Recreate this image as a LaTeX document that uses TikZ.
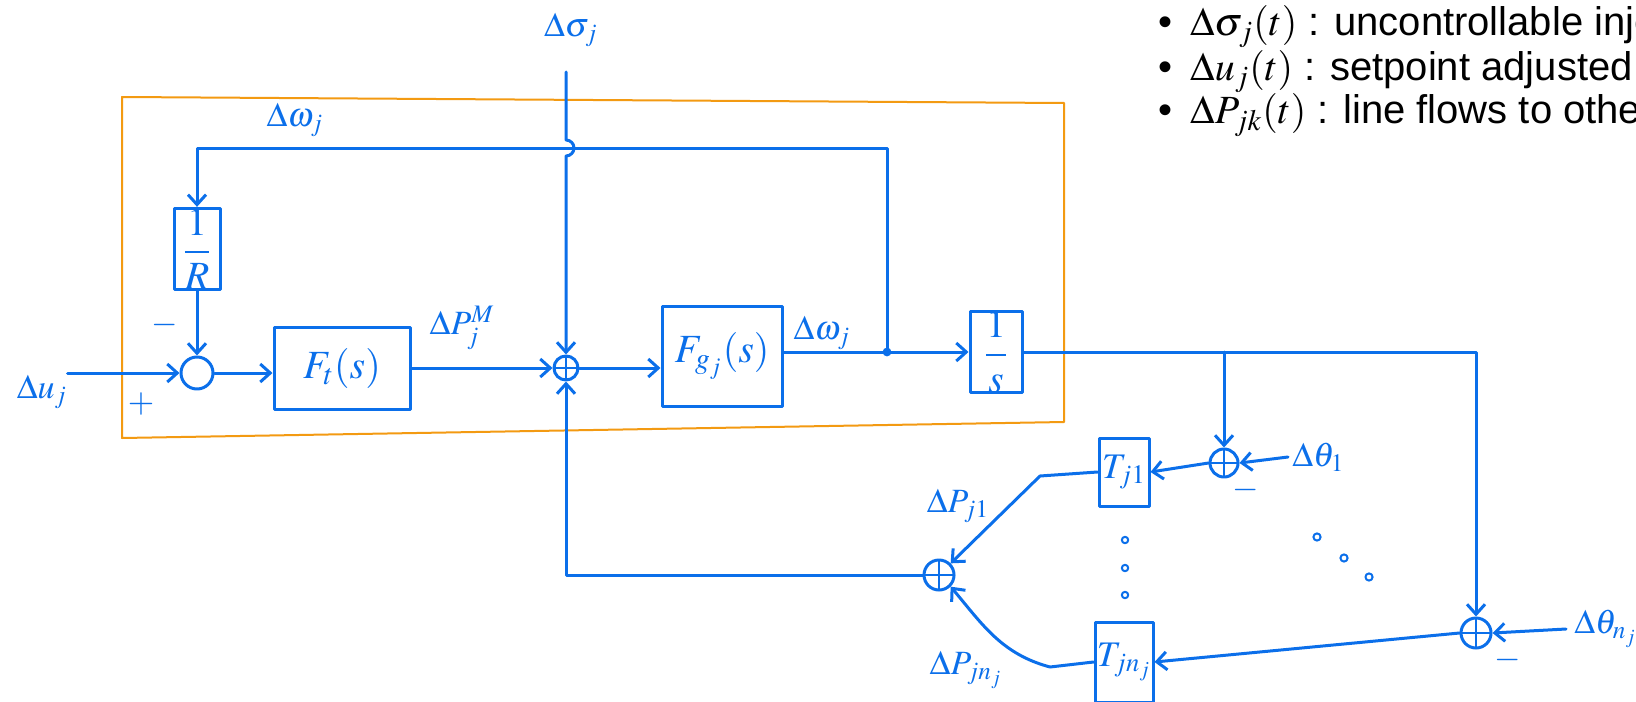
\documentclass[tikz,border=0pt]{standalone}
\usepackage{mathptmx}
\usepackage{fontspec}
\setmainfont{Liberation Sans}
\usetikzlibrary{arrows.meta}
\definecolor{InkBlue}{HTML}{0B6FEA}
\definecolor{FrameOrange}{HTML}{F39A12}

\begin{document}
\begin{tikzpicture}[x=.5pt,y=-.5pt,line cap=round,line join=round,
  >={Straight Barb[length=5pt,width=9pt]},
  ink/.style={InkBlue,line width=1.5pt},
  blk/.style={draw=InkBlue,line width=1.5pt,inner sep=0pt,text=InkBlue,font=\fontsize{20}{22}\selectfont},
  sumjn/.style={circle,draw=InkBlue,line width=1.5pt,inner sep=0pt,minimum size=#1,
    path picture={\draw[InkBlue,line width=1.2pt] (path picture bounding box.north) -- (path picture bounding box.south)
      (path picture bounding box.west) -- (path picture bounding box.east);}},
  lbl/.style={text=InkBlue,inner sep=0pt,font=\fontsize{17}{19}\selectfont}]
  \useasboundingbox (0,0) rectangle (1636,701);
  \begin{scope}
  \clip (0,0) rectangle (1636,701);

  \draw[FrameOrange,line width=1pt] (122,97) -- (1064,103) -- (1064,422) -- (122,438) -- cycle;

  \node[lbl] (du) at (42,392) {$\Delta u_j$};
  \node[circle,draw=InkBlue,line width=1.5pt,minimum size=16pt] (sumA) at (197,373) {};
  \node[blk,minimum width=23pt,minimum height=33pt] (rb) at (197,249) {$\displaystyle\frac{1}{R}$};
  \node[blk,minimum width=68pt,minimum height=41pt] (Ft) at (342,368) {$F_t(s)$};
  \node[sumjn=12pt] (sumB) at (566,368) {};
  \node[blk,minimum width=60pt,minimum height=50pt] (Fg) at (722,356) {$F_{g_j}(s)$};
  \node[blk,minimum width=26pt,minimum height=39pt] (Sbox) at (996,352) {$\displaystyle\frac{1}{s}$};
  \node[sumjn=14pt] (sumC) at (1224,463) {};
  \node[blk,minimum width=25pt,minimum height=34pt,font=\fontsize{18}{20}\selectfont] (T1) at (1124,472) {$T_{j1}$};
  \node[blk,minimum width=29pt,minimum height=40pt,font=\fontsize{18}{20}\selectfont] (Tn) at (1124,662) {$T_{jn_j}$};
  \node[sumjn=15pt] (sumD) at (1476,633) {};
  \node[sumjn=15pt] (sumE) at (939,575) {};

  \node[lbl] (dsig) at (571,30) {$\Delta\sigma_j$};
  \node[lbl] (lw1) at (295,120) {$\Delta\omega_j$};
  \node[lbl] (lpm) at (462,328) {$\Delta P_j^M$};
  \node[lbl] (lw2) at (822,333) {$\Delta\omega_j$};
  \node[lbl] (mA) at (165,325) {$-$};
  \node[lbl] (pA) at (141,404) {$+$};
  \node[lbl] (mC) at (1246,490) {$-$};
  \node[lbl] (mD) at (1508,660) {$-$};
  \node[lbl] (lp1) at (958,506) {$\Delta P_{j1}$};
  \node[lbl] (lpn) at (966,670) {$\Delta P_{jn_j}$};
  \node[lbl,anchor=west] (dth1) at (1292,457) {$\Delta\theta_1$};
  \node[lbl,anchor=west] (dthn) at (1574,629) {$\Delta\theta_{n_j}$};

  \coordinate (jw) at (887,352);
  \coordinate (fbR) at (887,148);
  \coordinate (fbL) at (197,148);
  \coordinate (sigT) at (566,72);
  \coordinate (hop) at (566,140);
  \coordinate (t1L) at (1040,476);
  \coordinate (tnL) at (1050,667);

  \draw[ink,->] (du.east |- sumA) -- (sumA.west);
  \draw[ink,->] (rb.south) -- (sumA.north);
  \draw[ink,->] (sumA.east) -- (Ft.west |- sumA);
  \draw[ink,->] (Ft.east |- sumB) -- (sumB.west);
  \draw[ink,->] (sumB.east) -- (Fg.west |- sumB);
  \draw[ink,->] (Fg.east |- jw) -- (jw) -- (Sbox.west |- jw);
  \fill[InkBlue] (jw) circle (2.2pt);
  \draw[ink,->] (jw) -- (fbR) -- (fbL) -- (rb.north);
  \draw[ink,->] (sigT) -- (hop) arc[start angle=90,end angle=-90,radius=4pt] -- (sumB.north);

  \draw[ink,->] (Sbox.east) -| (sumD.north);
  \draw[ink,->] (Sbox.east -| sumC) -- (sumC.north);
  \draw[ink,->] ([xshift=-2pt]dth1.west) -- (sumC.east);
  \draw[ink,->] (sumC.west) -- (T1.east);
  \draw[ink,->] (T1.west) -- (t1L) -- (sumE.north east);
  \draw[ink,->] ([xshift=-4pt]dthn.west) -- (sumD.east);
  \draw[ink,->] (sumD.west) -- (Tn.east);
  \draw[ink,->] (Tn.west) -- (tnL) to[out=165,in=-50] (sumE.south east);
  \draw[ink,->] (sumE.west) -| (sumB.south);

  \foreach \y in {540,568,595} \draw[InkBlue,line width=1pt] (1125,\y) circle (1.6pt);
  \foreach \x/\y in {1317/537,1344/558,1369/577} \draw[InkBlue,line width=1pt] (\x,\y) circle (1.8pt);

  \begin{scope}[every node/.style={anchor=base west,inner sep=0pt,font=\fontsize{20}{22}\selectfont}]
    \node (b1) at (1158,36) {\textbullet\hspace{9pt}$\Delta\sigma_j(t)$ : uncontrollable injection};
    \node (b2) at (1158,81) {\textbullet\hspace{9pt}$\Delta u_j(t)$ : setpoint adjusted};
    \node (b3) at (1158,124) {\textbullet\hspace{9pt}$\Delta P_{jk}(t)$ : line flows to others};
  \end{scope}
  \end{scope}
\end{tikzpicture}
\end{document}
